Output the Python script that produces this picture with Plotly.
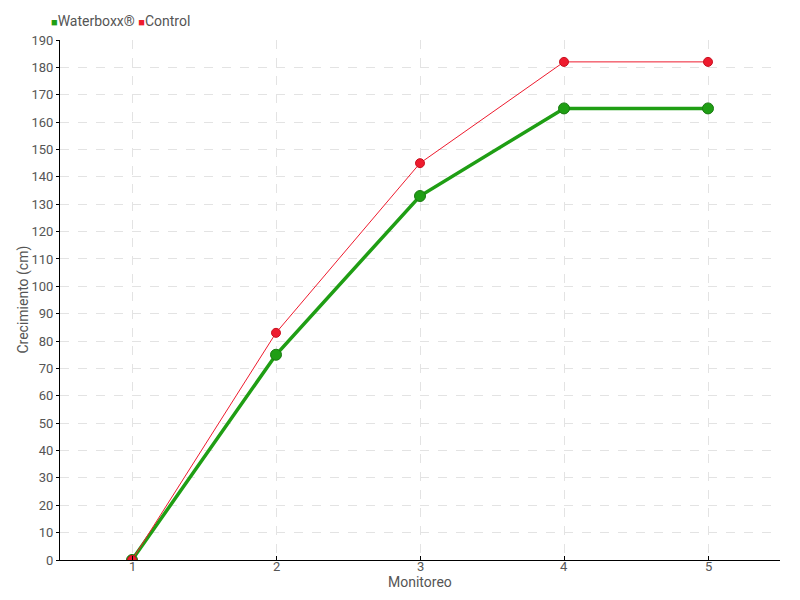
import plotly.graph_objects as go

monitoreo = [1, 2, 3, 4, 5]
waterboxx = [0, 75, 133, 165, 165]
control = [0, 83, 145, 182, 182]
y_ticks = list(range(0, 191, 10))

FONT = "Roboto"
green = "#1f9e14"
red = "#ee1b2e"
txt = "#555555"

fig = go.Figure()
fig.add_trace(go.Scatter(x=monitoreo, y=waterboxx, mode="lines+markers", showlegend=False,
                         line=dict(color=green, width=3.5),
                         marker=dict(size=11, color=green, line=dict(color="#1a7a12", width=1))))
fig.add_trace(go.Scatter(x=monitoreo, y=control, mode="lines+markers", showlegend=False,
                         line=dict(color=red, width=1),
                         marker=dict(size=9, color=red, line=dict(color="#c8101f", width=1))))

fig.add_annotation(
    text=f"<span style='color:{green};font-size:11px'>■</span>Waterboxx® "
         f"<span style='color:{red};font-size:11px'>■</span>Control",
    xref="paper", yref="paper", x=-0.015, y=1.037, xanchor="left", yanchor="middle",
    showarrow=False, font=dict(family=FONT, size=14, color=txt))
# x tick labels placed close to the axis
for m in monitoreo:
    fig.add_annotation(text=str(m), xref="x", yref="paper", x=m, y=-0.0125,
                       xanchor="center", yanchor="middle", showarrow=False,
                       font=dict(family=FONT, size=13, color=txt))
# axis titles
fig.add_annotation(text="Crecimiento (cm)", xref="paper", yref="paper", x=-0.052, y=0.5,
                   xanchor="center", yanchor="middle", textangle=-90, showarrow=False,
                   font=dict(family=FONT, size=14, color=txt))
fig.add_annotation(text="Monitoreo", xref="paper", yref="paper", x=0.5, y=-0.043,
                   xanchor="center", yanchor="middle", showarrow=False,
                   font=dict(family=FONT, size=14, color=txt))

# page body has an 8px default margin, so the figure is shifted; compensate in margins
fig.update_layout(
    width=800, height=600,
    margin=dict(l=52, r=28, t=32, b=48),
    paper_bgcolor="white", plot_bgcolor="white",
    font=dict(family=FONT, size=14, color=txt),
    showlegend=False,
    xaxis=dict(range=[0.5, 5.5], tickvals=monitoreo, showticklabels=False,
               showgrid=True, gridcolor="#e3e3e3", griddash="dash", gridwidth=1,
               showline=True, linecolor="black", linewidth=1,
               ticks="inside", ticklen=4, tickcolor="black",
               zeroline=False, automargin=False),
    yaxis=dict(range=[0, 190], tickvals=y_ticks,
               showgrid=True, gridcolor="#e3e3e3", griddash="dash", gridwidth=1,
               showline=True, linecolor="black", linewidth=1,
               ticks="outside", ticklen=3, tickcolor="black",
               zeroline=False, automargin=False, tickfont=dict(size=13)),
)

fig.write_html("out.html")
